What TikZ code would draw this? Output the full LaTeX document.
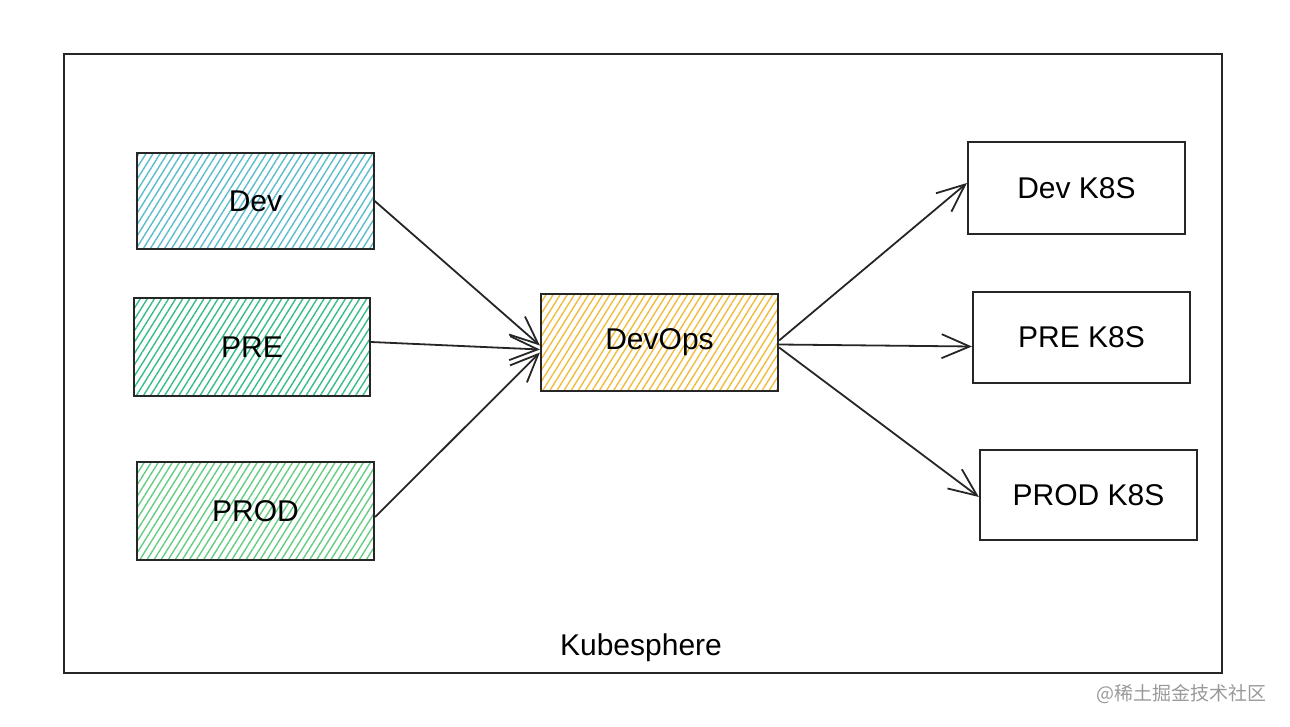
\documentclass[tikz,border=0pt]{standalone}
\usepackage{fontspec}
\setmainfont{Liberation Sans}
\newfontfamily\cjk{Noto Sans CJK SC}
\usetikzlibrary{arrows.meta,patterns.meta}
\definecolor{devc}{RGB}{90,188,205}
\definecolor{prec}{RGB}{55,188,135}
\definecolor{prodc}{RGB}{100,205,130}
\definecolor{opsc}{RGB}{240,188,60}
\tikzset{
  box/.style={draw=black!85, line width=2.2pt, minimum width=#1, inner sep=0pt, font=\fontsize{30}{34}\selectfont},
  hatch/.style={pattern={Lines[angle=58,distance=6pt,line width=1.4pt]}, pattern color=#1},
  conn/.style={draw=black!85, line width=1.8pt, -{Straight Barb[length=28pt,width=24pt,line width=1.8pt]}},
}
\begin{document}
\begin{tikzpicture}[x=1pt,y=-1pt]
\useasboundingbox (0,0) rectangle (1290,727);
\node[draw=black!85, line width=1.8pt, minimum width=1158pt, minimum height=619pt, inner sep=0pt] (frame) at (643,363.5) {};
\node[box=237pt, minimum height=96pt, hatch=devc] (dev) at (255.5,201) {Dev};
\node[box=236pt, minimum height=98pt, hatch=prec] (pre) at (252,347) {PRE};
\node[box=237pt, minimum height=98pt, hatch=prodc] (prod) at (255.5,511) {PROD};
\node[box=237pt, minimum height=97pt, hatch=opsc] (ops) at (659.5,342.5) {DevOps};
\node[box=217pt, minimum height=92pt] (dk) at (1076.5,188) {Dev K8S};
\node[box=217pt, minimum height=91pt] (pk) at (1081.5,337.5) {PRE K8S};
\node[box=217pt, minimum height=90pt] (rk) at (1088.5,495) {PROD K8S};
\node[font=\fontsize{30}{34}\selectfont] (kube) at (641,648) {Kubesphere};
\node[font=\cjk\fontsize{19}{22}\selectfont, text=black!40, anchor=east] (wm) at (1270,694) {@稀土掘金技术社区};
\draw[conn] ([yshift=0pt]dev.east) -- ([yshift=-3pt]ops.west);
\draw[conn] ([yshift=5pt]pre.east) -- ([yshift=-7pt]ops.west);
\draw[conn] ([yshift=-6pt]prod.east) -- ([yshift=-10pt]ops.west);
\draw[conn] ([yshift=2pt]ops.east) -- ([yshift=5pt]dk.west);
\draw[conn] ([yshift=-2pt]ops.east) -- ([yshift=-9pt]pk.west);
\draw[conn] ([yshift=-5pt]ops.east) -- ([yshift=-2pt]rk.west);
\end{tikzpicture}
\end{document}
